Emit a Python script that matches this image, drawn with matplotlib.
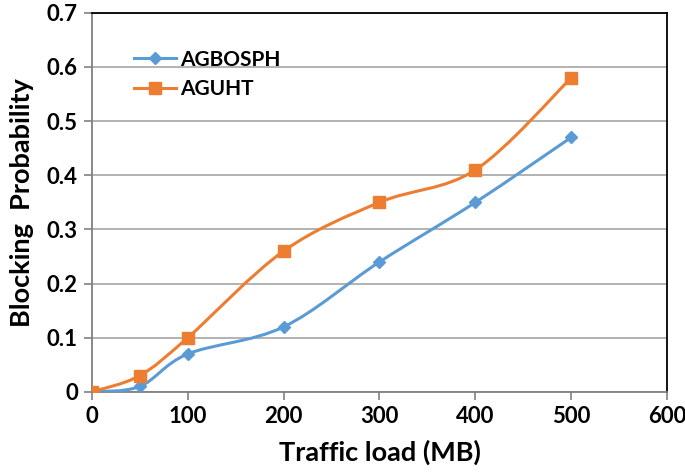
import matplotlib
matplotlib.use("Agg")
import matplotlib.pyplot as plt
from matplotlib.path import Path
from matplotlib.patches import PathPatch
from matplotlib.lines import Line2D

# data
traffic_load = [0, 50, 100, 200, 300, 400, 500]
agbosph = [0.0, 0.01, 0.07, 0.12, 0.24, 0.35, 0.47]
aguht = [0.0, 0.03, 0.10, 0.26, 0.35, 0.41, 0.58]

BLUE = "#5B9BD5"
ORANGE = "#ED7D31"

plt.rcParams['font.family'] = ['Lato', 'DejaVu Sans']
plt.rcParams['font.weight'] = 'bold'


def smooth_path(xs, ys):
    # excel-style smoothed line: cubic bezier through each point
    verts = [(xs[0], ys[0])]
    codes = [Path.MOVETO]
    n = len(xs)
    for i in range(n - 1):
        x0, y0 = xs[max(i - 1, 0)], ys[max(i - 1, 0)]
        x1, y1 = xs[i], ys[i]
        x2, y2 = xs[i + 1], ys[i + 1]
        x3, y3 = xs[min(i + 2, n - 1)], ys[min(i + 2, n - 1)]
        c1 = (x1 + (x2 - x0) / 6.0, y1 + (y2 - y0) / 6.0)
        c2 = (x2 - (x3 - x1) / 6.0, y2 - (y3 - y1) / 6.0)
        verts += [c1, c2, (x2, y2)]
        codes += [Path.CURVE4] * 3
    return Path(verts, codes)


fig = plt.figure(figsize=(6.85, 4.75), dpi=100)
ax = fig.add_axes([0.134, 0.175, 0.84, 0.798])

for ys, col, mk, ms in [(agbosph, BLUE, 'D', 6.5), (aguht, ORANGE, 's', 8.5)]:
    ax.add_patch(PathPatch(smooth_path(traffic_load, ys), facecolor='none',
                           edgecolor=col, lw=2.2, zorder=3))
    ax.plot(traffic_load, ys, linestyle='none', marker=mk, ms=ms,
            color=col, zorder=4)

ax.set_xlim(0, 600)
ax.set_ylim(0, 0.7)
ax.set_xticks(range(0, 601, 100))
ax.set_yticks([i / 10 for i in range(8)])
ax.set_yticklabels(['0', '0.1', '0.2', '0.3', '0.4', '0.5', '0.6', '0.7'])
ax.grid(axis='y', color='#A6A6A6', lw=1.2)
ax.set_axisbelow(True)

for s in ['top', 'right']:
    ax.spines[s].set_color('black')
    ax.spines[s].set_linewidth(1.3)
for s in ['left', 'bottom']:
    ax.spines[s].set_color('#808080')
    ax.spines[s].set_linewidth(1.3)

ax.tick_params(axis='both', direction='out', length=6, width=1.2,
               color='#808080', labelsize=16, pad=4)
for lab in ax.get_xticklabels() + ax.get_yticklabels():
    lab.set_fontweight('bold')

ax.set_xlabel('Traffic load (MB)', fontsize=19.5, fontweight='bold', labelpad=9)
ax.set_ylabel('Blocking  Probability', fontsize=19.5, fontweight='bold', labelpad=9)

handles = [Line2D([], [], color=BLUE, lw=2.2, marker='D', ms=6.5),
           Line2D([], [], color=ORANGE, lw=2.2, marker='s', ms=8.5)]
ax.legend(handles, ['AGBOSPH', 'AGUHT'], loc='upper left',
          bbox_to_anchor=(0.055, 0.93), frameon=False,
          prop={'weight': 'bold', 'size': 15}, handlelength=2.0,
          handletextpad=0.2, labelspacing=0.45, borderpad=0)

fig.savefig('out.png', dpi=100)
